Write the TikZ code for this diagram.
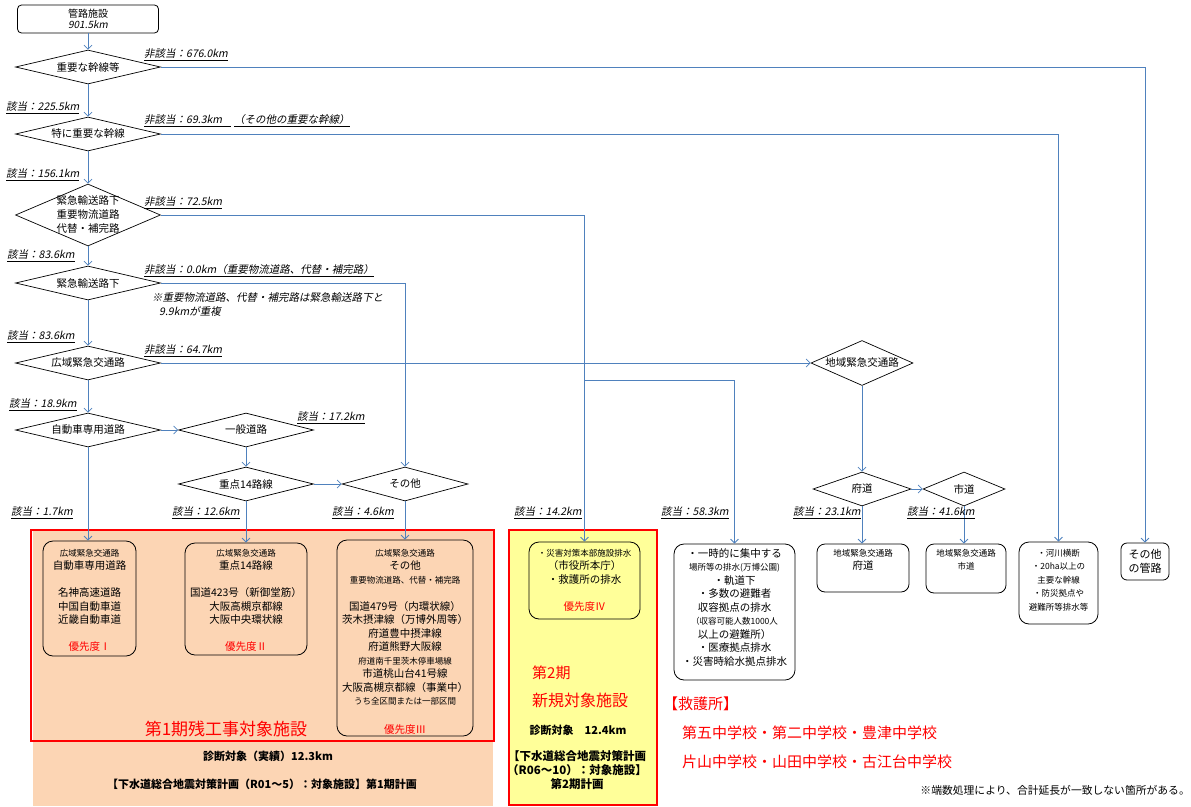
\documentclass[tikz,border=0pt]{standalone}
\usepackage{fontspec}
\setmainfont{Noto Sans CJK JP}
\newfontfamily\lblfont[FakeSlant=0.2]{Noto Sans CJK JP}
\usetikzlibrary{shapes.geometric,arrows.meta}
\definecolor{lineblue}{RGB}{79,129,189}
\definecolor{salmon}{RGB}{252,213,180}
\definecolor{paleyellow}{RGB}{255,255,153}
\newcommand{\fsz}[2]{\fontsize{#1}{#2}\selectfont}
\newcommand{\ulbl}[1]{\underline{\lblfont #1}}
\begin{document}
\begin{tikzpicture}[x=1pt,y=-1pt,>={Straight Barb[length=4pt,width=8pt]},
  conn/.style={draw=lineblue,line width=0.8pt},
  diam/.style={draw,diamond,line width=0.7pt,inner sep=0pt,align=center,font=\fsz{10.5}{14}},
  rbox/.style={draw,rounded corners=10pt,line width=0.8pt},
  txt/.style={inner sep=0pt,align=center,anchor=north,font=\fsz{10.5}{13.5}},
  lbl/.style={inner sep=0pt,anchor=west,font=\fsz{10.5}{13}}]
\useasboundingbox (0,0) rectangle (1191,806);

% frames of the two phases
\fill[salmon] (33,530) rectangle (493,806);
\draw[red,line width=2pt] (31,530) rectangle (494,741);
\draw[red,line width=2pt,fill=paleyellow] (509,530) rectangle (657,805);

% decisions
\node[rbox,rounded corners=4pt,minimum width=141pt,minimum height=28pt,inner sep=0pt,align=center,font=\fsz{10}{11.5}] (top) at (88,19) {管路施設\\{\lblfont 901.5km}};
\foreach \nm/\y/\lab in {d1/67/重要な幹線等, d2/134/特に重要な幹線, d4/283/緊急輸送路下, d5/363/広域緊急交通路, d6/430/自動車専用道路}
  \node[diam,minimum width=145pt,minimum height=34pt,aspect=4.26] (\nm) at (88,\y) {\lab};
\node[diam,minimum width=145pt,minimum height=62pt,aspect=2.34,inner ysep=-2pt] (d3) at (88,215) {緊急輸送路下\\重要物流道路\\代替・補完路};
\node[diam,minimum width=135pt,minimum height=34pt,aspect=4] (d7) at (246,430) {一般道路};
\node[diam,minimum width=135pt,minimum height=34pt,aspect=4] (d8) at (246,484) {重点14路線};
\node[diam,minimum width=126pt,minimum height=34pt,aspect=3.7] (d9) at (405,484) {その他};
\node[diam,minimum width=102pt,minimum height=45pt,aspect=2.27] (r1) at (862,363) {地域緊急交通路};
\node[diam,minimum width=98pt,minimum height=34pt,aspect=2.9] (r2) at (862,489) {府道};
\node[diam,minimum width=82pt,minimum height=34pt,aspect=2.4] (r3) at (964,489) {市道};

% target boxes
\node[rbox,minimum width=93pt,minimum height=115pt] (b1) at (89.5,598.5) {};
\node[rbox,minimum width=122pt,minimum height=112pt] (b2) at (246,599) {};
\node[rbox,minimum width=136pt,minimum height=196pt] (b3) at (405,638) {};
\node[rbox,minimum width=111pt,minimum height=77pt] (b4) at (584.5,580.5) {};
\node[rbox,minimum width=121pt,minimum height=136pt] (b5) at (734.5,612) {};
\node[rbox,rounded corners=8pt,minimum width=92pt,minimum height=48pt] (b6) at (863,568) {};
\node[rbox,rounded corners=8pt,minimum width=80pt,minimum height=49pt] (b7) at (966,568.5) {};
\node[rbox,minimum width=79pt,minimum height=82pt] (b8) at (1058.5,583) {};
\node[rbox,rounded corners=6pt,minimum width=48pt,minimum height=37pt,align=center,font=\fsz{11}{14}] (b9) at (1145,561.5) {その他\\の管路};

\node[txt] (t1) at (89.5,549) {{\fsz{8.5}{13.5}広域緊急交通路}\\自動車専用道路\\[13.5pt]名神高速道路\\中国自動車道\\近畿自動車道\\[13.5pt]\textcolor{red}{優先度Ⅰ}};
\node[txt] (t2) at (246,549) {{\fsz{8.5}{13.5}広域緊急交通路}\\重点14路線\\[13.5pt]国道423号（新御堂筋）\\大阪高槻京都線\\大阪中央環状線\\[13.5pt]\textcolor{red}{優先度Ⅱ}};
\node[txt] (t3) at (405,549) {{\fsz{8.5}{13.5}広域緊急交通路}\\その他\\{\fsz{8.5}{13.5}重要物流道路、代替・補完路}\\[13.5pt]国道479号（内環状線）\\茨木摂津線（万博外周等）\\府道豊中摂津線\\府道熊野大阪線\\{\fsz{8.5}{13.5}府道南千里茨木停車場線}\\市道桃山台41号線\\大阪高槻京都線（事業中）\\{\fsz{8.5}{13.5}うち全区間または一部区間}\\[15pt]\textcolor{red}{優先度Ⅲ}};
\node[txt] (t4) at (584.5,549) {{\fsz{8.5}{13.5}・災害対策本部施設排水}\\（市役所本庁）\\・救護所の排水\\[13.5pt]\textcolor{red}{優先度Ⅳ}};
\node[txt] (t5) at (734.5,548) {・一時的に集中する\\{\fsz{8.5}{13.5}場所等の排水(万博公園)}\\・軌道下\\・多数の避難者\\収容拠点の排水\\{\fsz{8.5}{13.5}（収容可能人数1000人}\\以上の避難所）\\・医療拠点排水\\・災害時給水拠点排水};
\node[txt] (t6) at (863,549) {{\fsz{8.5}{13.5}地域緊急交通路}\\府道};
\node[txt,font=\fsz{8.5}{13.5}] (t7) at (966,549) {地域緊急交通路\\市道};
\node[txt,font=\fsz{8.5}{13.5}] (t8) at (1058.5,549) {・河川横断\\・20ha以上の\\主要な幹線\\・防災拠点や\\避難所等排水等};

% connectors
\draw[conn,->] (top) -- (d1);
\draw[conn,->] (d1) -- (d2);
\draw[conn,->] (d2) -- (d3);
\draw[conn,->] (d3) -- (d4);
\draw[conn,->] (d4) -- (d5);
\draw[conn,->] (d5) -- (d6);
\draw[conn,->] (d1) -| (b9);
\draw[conn,->] (d2) -| (b8);
\draw[conn,->] (d3) -| (b4);
\coordinate (sp) at (584.5,380);
\draw[conn,->] (sp) -| (b5);
\draw[conn,->] (d4) -| (d9);
\draw[conn,->] (d5) -- (r1);
\draw[conn,->] (r1) -- (r2);
\draw[conn,->] (r2) -- (r3);
\draw[conn,->] (r2) -- (r2 |- b6.north);
\draw[conn,->] (r3) -- (r3 |- b7.north);
\draw[conn,->] (d6) -- (d7);
\draw[conn,->] (d7) -- (d8);
\draw[conn,->] (d8) -- (d9);
\draw[conn,->] (d6) -- (d6 |- b1.north);
\draw[conn,->] (d8) -- (d8 |- b2.north);
\draw[conn,->] (d9) -- (d9 |- b3.north);

% lengths
\node[lbl] (n1) at (144,55) {\ulbl{非該当：676.0km}};
\node[lbl] (n2) at (144,121) {\ulbl{非該当：69.3km\hspace{9pt}}\hspace{3pt}\ulbl{（その他の重要な幹線）}};
\node[lbl] (n3) at (144,203) {\ulbl{非該当：72.5km}};
\node[lbl] (n4) at (144,271) {\ulbl{非該当：0.0km（重要物流道路、代替・補完路）}};
\node[lbl] (n5) at (144,351) {\ulbl{非該当：64.7km}};
\node[lbl,anchor=north west,align=left,font=\lblfont\fsz{10.5}{14}] (nt) at (152,292) {※重要物流道路、代替・補完路は緊急輸送路下と\\\hspace*{7pt}9.9kmが重複};
\foreach \nm/\x/\y/\len in {y1/6/108/225.5, y2/6/175/156.1, y3/7/256/83.6, y4/7/337/83.6, y5/9/405/18.9, y6/297/418/17.2, y7/11/513/1.7, y8/172/513/12.6, y9/332/513/4.6, y10/514/513/14.2, y11/661/513/58.3, y12/793/513/23.1, y13/907/513/41.6}
  \node[lbl] (\nm) at (\x,\y) {\ulbl{該当：\len km}};

% phase texts
\node[red,font=\fsz{17}{20}] (ph1) at (226,729) {第1期残工事対象施設};
\node[font=\bfseries\fsz{11}{14}] (s1) at (268,756) {診断対象（実績）12.3km};
\node[font=\bfseries\fsz{11}{14}] (s2) at (262,784) {【下水道総合地震対策計画（R01～5）：対象施設】第1期計画};
\node[red,anchor=west,inner sep=0pt,font=\fsz{15}{18}] (ph2a) at (532,673) {第2期};
\node[red,anchor=west,inner sep=0pt,font=\fsz{16}{18}] (ph2b) at (532,700) {新規対象施設};
\node[font=\bfseries\fsz{11}{14}] (s3) at (578,730) {診断対象　12.4km};
\node[align=center,font=\bfseries\fsz{11.5}{14}] (s4) at (577,770) {【下水道総合地震対策計画\\（R06～10）：対象施設】\\第2期計画};
\node[red,anchor=west,inner sep=0pt,font=\fsz{15}{18}] (k0) at (663,704) {【救護所】};
\node[red,anchor=west,inner sep=0pt,font=\fsz{15}{18}] (k1) at (682,733) {第五中学校・第二中学校・豊津中学校};
\node[red,anchor=west,inner sep=0pt,font=\fsz{15}{18}] (k2) at (682,762) {片山中学校・山田中学校・古江台中学校};
\node[anchor=east,inner sep=0pt,font=\fsz{10.8}{13}] (fn) at (1190,790) {※端数処理により、合計延長が一致しない箇所がある。};
\end{tikzpicture}
\end{document}
